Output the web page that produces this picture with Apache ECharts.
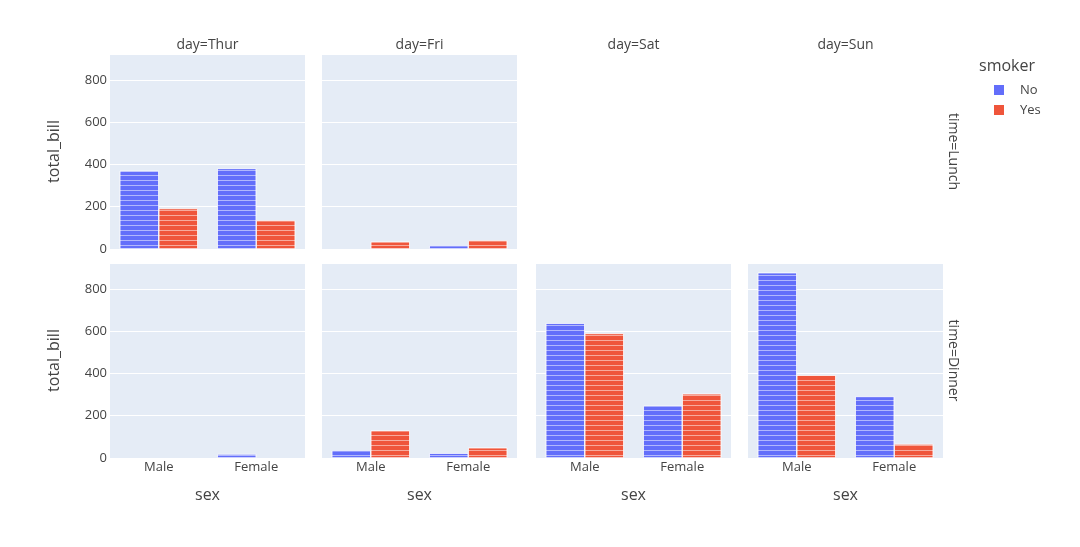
<!DOCTYPE html>
<html>
<head>
<meta charset="utf-8">
<title>total_bill by sex, smoker, day and time</title>
<script src="https://cdn.jsdelivr.net/npm/echarts@6/dist/echarts.min.js"></script>
<style>
  html, body { margin: 0; padding: 0; background: #fff; }
  #chart { width: 1080px; height: 547px; }
</style>
</head>
<body>
<div id="chart"></div>
<script>
// sum of total_bill per group, values in order [Male, Female]
const sexes = ['Male', 'Female'];
const days = ['Thur', 'Fri', 'Sat', 'Sun'];
const times = ['Lunch', 'Dinner'];
const yTicks = [0, 200, 400, 600, 800];

// lunch only exists for Thur and Fri
const lunchNo = [[369.73, 381.58], [null, 15.98]];
const lunchYes = [[191.71, 134.53], [34.16, 39.78]];
const dinnerNo = [[null, 18.78], [34.95, 22.75], [637.73, 247.05], [877.34, 291.54]];
const dinnerYes = [[null, null], [129.46, 48.80], [589.62, 304.00], [392.12, 66.16]];

const colNo = '#636efa';
const colYes = '#EF553B';
const txt = '#444';
const font = 'Open Sans';

const colLeft = [110, 322, 536, 748];
const rowTop = [54, 263];
const panelW = 195, panelH = 195;

var chart = echarts.init(document.getElementById('chart'), null, { renderer: 'canvas' });

var grids = [], xAxes = [], yAxes = [], series = [];
var panels = [];
times.forEach(function (t, r) {
    var noArr = r === 0 ? lunchNo : dinnerNo;
    var yesArr = r === 0 ? lunchYes : dinnerYes;
    noArr.forEach(function (v, c) {
        panels.push({ row: r, col: c, no: v, yes: yesArr[c] });
    });
});

// stripes that stand in for the single bills inside each bar
var stripes = {
    symbol: 'rect',
    symbolSize: 1,
    color: 'rgba(255,255,255,0.5)',
    dashArrayX: [1, 0],
    dashArrayY: [1, 4],
    rotation: 0
};

panels.forEach(function (p, i) {
    grids.push({
        left: colLeft[p.col], top: rowTop[p.row],
        width: panelW, height: panelH,
        show: true, backgroundColor: '#E5ECF6', borderWidth: 0
    });
    xAxes.push({
        type: 'category', gridIndex: i, data: sexes,
        axisLine: { show: false }, axisTick: { show: false },
        axisLabel: { show: p.row === 1, color: txt, fontSize: 13, fontFamily: font, margin: 3 }
    });
    yAxes.push({
        type: 'value', gridIndex: i, min: 0, max: 923, interval: 200,
        axisLine: { show: false }, axisTick: { show: false },
        splitLine: { lineStyle: { color: '#fff', width: 1 } },
        axisLabel: { show: p.col === 0, color: txt, fontSize: 13, fontFamily: font, margin: 3,
            formatter: function (v) { return yTicks.indexOf(v) >= 0 ? String(v) : ''; } }
    });
    series.push({
        name: 'No', type: 'bar', xAxisIndex: i, yAxisIndex: i, data: p.no,
        barGap: '0%', barCategoryGap: '20%',
        itemStyle: { color: colNo, borderColor: '#fff', borderWidth: 0.5, decal: stripes }
    });
    series.push({
        name: 'Yes', type: 'bar', xAxisIndex: i, yAxisIndex: i, data: p.yes,
        barGap: '0%', barCategoryGap: '20%',
        itemStyle: { color: colYes, borderColor: '#fff', borderWidth: 0.5, decal: stripes }
    });
});

var graphics = [];
function label(text, x, y, size, rot) {
    graphics.push({
        type: 'text', x: x, y: y, rotation: rot || 0,
        style: { text: text, x: 0, y: 0, align: 'center', verticalAlign: 'middle',
            fill: txt, fontSize: size, fontFamily: font }
    });
}
days.forEach(function (d, c) {
    label('day=' + d, colLeft[c] + panelW / 2, 45, 14);
    label('sex', colLeft[c] + panelW / 2, 495, 16);
});
times.forEach(function (t, r) {
    label('time=' + t, 953, rowTop[r] + panelH / 2, 14, -Math.PI / 2);
    label('total_bill', 54, rowTop[r] + panelH / 2, 16, Math.PI / 2);
});
graphics.push({
    type: 'text', left: 979, top: 58,
    style: { text: 'smoker', fill: txt, fontSize: 16, fontFamily: font }
});

var option = {
    animation: false,
    grid: grids,
    xAxis: xAxes,
    yAxis: yAxes,
    series: series,
    graphic: graphics,
    legend: {
        data: [
            { name: 'No', itemStyle: { decal: 'none' } },
            { name: 'Yes', itemStyle: { decal: 'none' } }
        ],
        orient: 'vertical', left: 992, top: 83, padding: 0,
        icon: 'rect', itemWidth: 12, itemHeight: 12, itemGap: 6,
        textStyle: { color: txt, fontSize: 13, fontFamily: font, padding: [0, 0, 0, 10] }
    }
};
chart.setOption(option);
</script>
</body>
</html>
